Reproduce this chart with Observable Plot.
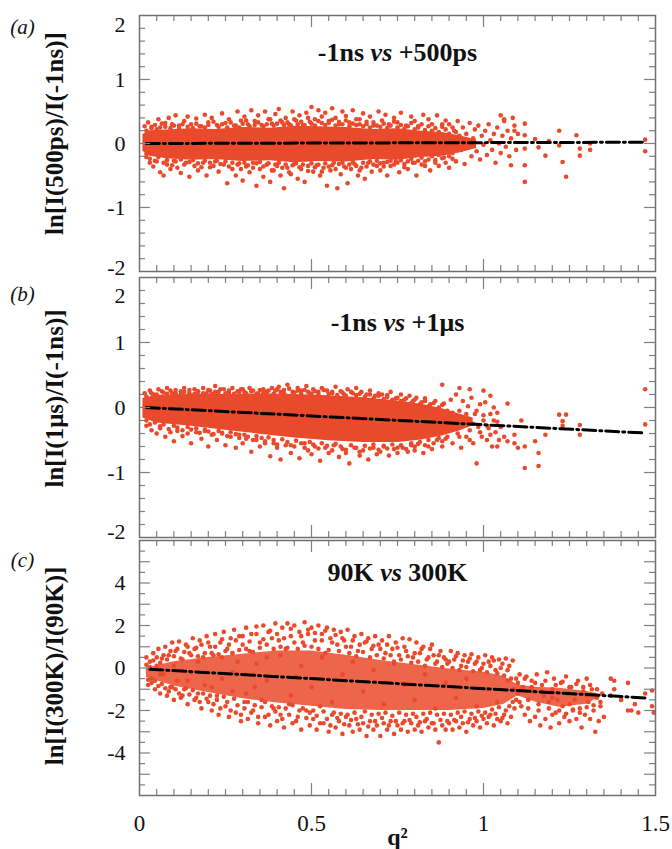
<!DOCTYPE html>
<html><head><meta charset="utf-8">
<script src="https://cdn.jsdelivr.net/npm/d3@7"></script>
<script src="https://cdn.jsdelivr.net/npm/@observablehq/plot@0.6"></script>
<style>
body{margin:0;background:#fff;}
#chart{position:relative;width:672px;height:849px;overflow:hidden;background:#fff;}
#chart svg{position:absolute;left:0;overflow:visible;}
</style></head><body><div id="chart"></div>
<script>
// ---------- data ----------
const xTickLabels = [0, 0.5, 1, 1.5];
const yTicksAB = [-2, -1, 0, 1, 2];
const yTicksC = [-4, -2, 0, 2, 4];
const titles = ["-1ns vs +500ps", "-1ns vs +1μs", "90K vs 300K"];
const yLabels = ["ln[I(500ps)/I(-1ns)]", "ln[I(1μs)/I(-1ns)]", "ln[I(300K)/I(90K)]"];
const tags = ["(a)", "(b)", "(c)"];

// dense core of each cloud: [q², lower, upper]
const coreA = [[0.01,-0.12,0.14],[0.03,-0.2,0.2],[0.08,-0.24,0.21],[0.15,-0.26,0.23],[0.22,-0.25,0.22],[0.3,-0.28,0.25],[0.38,-0.27,0.24],[0.45,-0.3,0.27],[0.52,-0.28,0.26],[0.6,-0.29,0.25],[0.68,-0.25,0.22],[0.75,-0.26,0.23],[0.82,-0.22,0.19],[0.88,-0.2,0.17],[0.93,-0.15,0.12],[0.98,-0.08,0.06]];
const coreB = [[0.01,-0.16,0.14],[0.05,-0.24,0.19],[0.15,-0.29,0.2],[0.25,-0.35,0.2],[0.35,-0.41,0.21],[0.45,-0.47,0.2],[0.55,-0.51,0.18],[0.65,-0.54,0.15],[0.75,-0.54,0.1],[0.82,-0.5,0.05],[0.88,-0.44,-0.02],[0.93,-0.36,-0.1],[0.97,-0.28,-0.16]];
const coreC = [[0.02,-0.45,0.0],[0.1,-0.85,0.3],[0.2,-1.15,0.5],[0.3,-1.45,0.65],[0.4,-1.65,0.8],[0.5,-1.8,0.8],[0.6,-1.95,0.6],[0.7,-2.0,0.35],[0.8,-2.0,0.15],[0.9,-2.0,-0.05],[1.0,-1.9,-0.2],[1.06,-1.7,-0.4],[1.1,-1.3,-0.8],[1.15,-1.6,-0.9],[1.22,-1.85,-0.95],[1.3,-1.7,-1.1],[1.33,-1.45,-1.2]];

// individual points: [q², ln ratio]
const dotsA = [[0.015,0.27],[0.02,-0.21],[0.025,0.33],[0.03,-0.3],[0.035,0.24],[0.04,-0.36],[0.045,0.29],[0.05,-0.28],[0.055,0.38],[0.06,-0.45],[0.065,0.31],[0.07,-0.5],[0.075,0.26],[0.08,-0.33],[0.085,0.4],[0.09,-0.4],[0.095,0.3],[0.1,-0.27],
[0.105,0.44],[0.11,-0.38],[0.115,0.28],[0.12,-0.46],[0.13,0.35],[0.135,-0.3],[0.14,0.42],[0.145,-0.52],[0.15,0.3],[0.16,-0.35],[0.165,0.39],[0.17,-0.42],[0.18,0.27],[0.185,-0.3],[0.19,0.45],[0.195,-0.5],
[0.2,0.33],[0.205,-0.37],[0.21,0.4],[0.22,-0.28],[0.225,0.29],[0.23,-0.44],[0.24,0.47],[0.245,-0.33],[0.25,0.32],[0.255,-0.62],[0.26,0.38],[0.27,-0.4],[0.275,0.28],[0.28,-0.5],[0.285,0.5],[0.29,-0.31],[0.295,0.36],
[0.3,-0.58],[0.305,0.42],[0.31,-0.36],[0.315,0.3],[0.32,-0.45],[0.325,0.52],[0.33,-0.3],[0.335,0.35],[0.34,-0.66],[0.345,0.44],[0.35,-0.4],[0.355,0.29],[0.36,-0.52],[0.365,0.5],[0.37,-0.33],[0.375,0.38],[0.38,-0.6],[0.385,0.31],[0.39,-0.42],[0.395,0.46],
[0.4,-0.35],[0.405,0.54],[0.41,-0.5],[0.415,0.33],[0.42,-0.7],[0.425,0.4],[0.43,-0.38],[0.435,0.3],[0.44,-0.48],[0.445,0.5],[0.45,-0.32],[0.455,0.36],[0.46,-0.55],[0.465,0.44],[0.47,-0.4],[0.475,0.29],[0.48,-0.6],[0.485,0.48],[0.49,-0.35],[0.495,0.34],
[0.5,0.57],[0.505,-0.44],[0.51,0.38],[0.515,-0.34],[0.52,0.52],[0.525,-0.5],[0.53,0.32],[0.535,-0.38],[0.54,0.48],[0.545,-0.66],[0.55,0.35],[0.555,-0.42],[0.56,0.55],[0.565,-0.3],[0.57,0.4],[0.575,-0.7],[0.58,0.3],[0.585,-0.48],[0.59,0.5],[0.595,-0.36],
[0.6,0.43],[0.605,-0.62],[0.61,0.33],[0.615,-0.4],[0.62,0.52],[0.625,-0.32],[0.63,0.38],[0.635,-0.5],[0.64,0.3],[0.645,-0.38],[0.65,0.47],[0.655,-0.55],[0.66,0.34],[0.665,-0.3],[0.67,0.42],[0.675,-0.44],[0.68,0.28],[0.69,-0.35],[0.695,0.5],
[0.7,-0.42],[0.705,0.36],[0.71,-0.3],[0.715,0.45],[0.72,-0.5],[0.725,0.3],[0.73,-0.35],[0.74,0.4],[0.745,-0.28],[0.75,0.33],[0.755,-0.45],[0.76,0.48],[0.77,-0.32],[0.775,0.28],[0.78,-0.4],[0.79,0.42],[0.795,-0.3],
[0.8,0.35],[0.805,-0.5],[0.81,0.27],[0.82,-0.33],[0.825,0.45],[0.83,-0.28],[0.84,0.38],[0.845,-0.42],[0.85,0.3],[0.86,-0.3],[0.865,0.44],[0.87,-0.35],[0.88,0.26],[0.885,-0.22],[0.89,0.36],[0.9,-0.38],
[0.9,0.3],[0.905,0.1],[0.91,-0.15],[0.915,0.2],[0.92,-0.28],[0.925,0.35],[0.93,0.05],[0.935,-0.1],[0.94,0.25],[0.945,-0.32],[0.95,0.15],[0.955,-0.05],[0.96,0.32],[0.965,-0.2],[0.97,0.08],[0.975,0.22],[0.98,-0.12],[0.985,0.28],[0.99,-0.25],[0.995,0.12],
[1.0,-0.02],[1.005,0.2],[1.01,-0.18],[1.015,0.3],[1.02,0.05],[1.025,-0.1],[1.03,0.15],[1.035,-0.3],[1.04,0.25],[1.045,0.0],[1.05,-0.15],[1.055,0.12],[1.06,0.35],[1.065,-0.05],[1.07,0.2],[1.075,-0.2],[1.08,0.08],[1.085,0.4],[1.09,0.28],[1.095,-0.1],[1.1,0.15],
[1.05,0.44],[1.06,0.38],[1.08,-0.34],[1.09,0.2],[1.12,0.31],[1.12,0.13],[1.12,-0.08],[1.12,-0.34],[1.12,-0.6],[1.15,0.07],[1.16,-0.06],[1.18,-0.19],[1.19,0.04],[1.22,0.2],[1.22,-0.03],[1.23,-0.29],[1.24,-0.52],[1.27,0.13],[1.28,-0.08],[1.28,-0.19],[1.31,0.0],[1.31,-0.1],[1.47,0.06],[1.47,-0.12]];
const edgeA = [[0.02,0.2],[0.035,0.26],[0.05,0.22],[0.06,0.25],[0.075,0.32],[0.09,0.24],[0.1,0.28],[0.115,0.23],[0.125,0.3],[0.14,0.26],[0.155,0.24],[0.165,0.31],[0.175,0.27],[0.19,0.25],[0.2,0.29],[0.215,0.34],[0.23,0.26],[0.24,0.3],[0.255,0.25],[0.265,0.33],[0.28,0.28],[0.29,0.25],[0.3,0.31],[0.31,0.36],[0.32,0.27],[0.335,0.29],[0.345,0.33],[0.36,0.27],[0.37,0.3],[0.38,0.38],[0.39,0.28],[0.4,0.31],[0.41,0.36],[0.42,0.29],[0.43,0.33],[0.44,0.28],[0.45,0.38],[0.46,0.3],[0.47,0.34],[0.48,0.29],[0.49,0.4],[0.5,0.31],[0.51,0.28],[0.52,0.35],[0.53,0.42],[0.54,0.29],[0.55,0.32],[0.56,0.37],[0.57,0.28],[0.58,0.34],[0.59,0.3],[0.6,0.36],[0.61,0.27],[0.62,0.31],[0.63,0.29],[0.64,0.38],[0.65,0.27],[0.66,0.3],[0.67,0.25],[0.68,0.33],[0.69,0.28],[0.7,0.26],[0.71,0.31],[0.72,0.24],[0.73,0.28],[0.74,0.34],[0.75,0.25],[0.76,0.29],[0.77,0.23],[0.78,0.27],[0.79,0.32],[0.8,0.22],[0.81,0.25],[0.82,0.3],[0.83,0.21],[0.84,0.27],[0.85,0.2],[0.86,0.24],[0.87,0.18],[0.88,0.3],[0.89,0.22],[0.9,0.15],[0.91,0.25],[0.92,0.18],[0.93,0.12],
[0.02,-0.16],[0.03,-0.24],[0.045,-0.27],[0.055,-0.21],[0.07,-0.3],[0.08,-0.26],[0.095,-0.34],[0.105,-0.28],[0.12,-0.25],[0.13,-0.33],[0.145,-0.29],[0.155,-0.26],[0.17,-0.31],[0.18,-0.37],[0.19,-0.27],[0.205,-0.3],[0.215,-0.35],[0.225,-0.27],[0.235,-0.32],[0.25,-0.28],[0.26,-0.36],[0.27,-0.3],[0.285,-0.33],[0.295,-0.4],[0.305,-0.3],[0.315,-0.34],[0.33,-0.38],[0.34,-0.31],[0.35,-0.29],[0.36,-0.36],[0.375,-0.31],[0.385,-0.42],[0.395,-0.33],[0.405,-0.3],[0.415,-0.38],[0.425,-0.33],[0.435,-0.45],[0.445,-0.34],[0.455,-0.31],[0.465,-0.37],[0.475,-0.33],[0.49,-0.43],[0.5,-0.31],[0.51,-0.37],[0.52,-0.33],[0.53,-0.44],[0.54,-0.31],[0.55,-0.36],[0.56,-0.34],[0.57,-0.4],[0.58,-0.32],[0.59,-0.3],[0.6,-0.38],[0.61,-0.33],[0.62,-0.29],[0.63,-0.35],[0.64,-0.42],[0.65,-0.3],[0.66,-0.36],[0.67,-0.28],[0.68,-0.33],[0.69,-0.27],[0.7,-0.31],[0.71,-0.36],[0.72,-0.29],[0.73,-0.27],[0.74,-0.33],[0.75,-0.3],[0.76,-0.26],[0.77,-0.37],[0.78,-0.28],[0.79,-0.24],[0.8,-0.3],[0.81,-0.27],[0.82,-0.22],[0.83,-0.35],[0.84,-0.25],[0.85,-0.2],[0.86,-0.26],[0.87,-0.18],[0.88,-0.23],[0.89,-0.3],[0.9,-0.2],[0.91,-0.24],[0.92,-0.1]];

const dotsB = [[0.015,0.22],[0.02,-0.28],[0.03,0.26],[0.035,-0.35],[0.04,0.2],[0.05,-0.4],[0.055,0.28],[0.06,-0.32],[0.07,0.23],[0.075,-0.45],[0.08,0.3],[0.09,-0.38],[0.095,0.22],
[0.1,-0.52],[0.105,0.27],[0.11,-0.36],[0.12,0.25],[0.125,-0.44],[0.13,0.3],[0.14,-0.4],[0.145,0.22],[0.15,-0.55],[0.16,0.28],[0.165,-0.38],[0.17,0.24],[0.18,-0.48],[0.185,0.3],[0.19,-0.36],[0.195,0.22],
[0.2,-0.6],[0.205,0.26],[0.21,-0.42],[0.22,0.33],[0.225,-0.5],[0.23,0.24],[0.24,-0.4],[0.245,0.28],[0.25,-0.58],[0.26,0.23],[0.265,-0.45],[0.27,0.3],[0.28,-0.62],[0.285,0.25],[0.29,-0.42],[0.295,0.28],
[0.3,-0.55],[0.305,0.24],[0.31,-0.48],[0.32,0.3],[0.325,-0.68],[0.33,0.26],[0.34,-0.5],[0.345,0.22],[0.35,-0.6],[0.36,0.28],[0.365,-0.52],[0.37,0.24],[0.38,-0.75],[0.385,0.3],[0.39,-0.55],[0.395,0.26],
[0.4,-0.62],[0.405,0.32],[0.41,-0.8],[0.42,0.27],[0.425,-0.58],[0.43,0.35],[0.44,-0.7],[0.445,0.24],[0.45,-0.6],[0.46,0.3],[0.465,-0.78],[0.47,0.26],[0.48,-0.55],[0.485,0.33],[0.49,-0.66],[0.495,0.22],
[0.5,-0.72],[0.505,0.28],[0.51,-0.6],[0.52,0.24],[0.525,-0.82],[0.53,0.3],[0.54,-0.62],[0.545,0.26],[0.55,-0.7],[0.56,0.22],[0.565,-0.58],[0.57,0.32],[0.58,-0.76],[0.585,0.25],[0.59,-0.64],[0.595,0.2],
[0.6,-0.7],[0.605,0.28],[0.61,-0.86],[0.62,0.22],[0.625,-0.62],[0.63,0.3],[0.64,-0.74],[0.645,0.24],[0.65,-0.66],[0.66,0.2],[0.665,-0.8],[0.67,0.26],[0.68,-0.62],[0.685,0.18],[0.69,-0.72],[0.695,0.22],
[0.7,-0.68],[0.705,0.2],[0.71,-0.6],[0.72,0.16],[0.725,-0.74],[0.73,0.24],[0.74,-0.64],[0.745,0.14],[0.75,-0.7],[0.76,0.2],[0.765,-0.62],[0.77,0.12],[0.78,-0.68],[0.785,0.18],[0.79,-0.58],[0.795,0.1],
[0.8,-0.66],[0.805,0.15],[0.81,-0.56],[0.82,0.08],[0.825,-0.7],[0.83,0.14],[0.84,-0.6],[0.845,0.05],[0.85,-0.64],[0.86,0.1],[0.865,-0.5],[0.87,-0.02],[0.88,-0.6],[0.885,0.06],[0.89,-0.48],[0.895,-0.1],
[0.9,-0.3],[0.905,0.12],[0.91,-0.55],[0.915,-0.15],[0.92,0.2],[0.925,-0.4],[0.93,-0.05],[0.935,-0.62],[0.94,0.1],[0.945,-0.25],[0.95,-0.45],[0.955,0.02],[0.96,-0.35],[0.965,0.15],[0.97,-0.55],[0.975,-0.1],[0.98,-0.86],[0.985,-0.3],[0.99,0.05],[0.995,-0.45],
[1.0,-0.2],[1.005,0.08],[1.01,-0.5],[1.015,-0.32],[1.02,-0.1],[1.025,-0.6],[1.03,0.0],[1.035,-0.38],[1.04,-0.22],[1.045,-0.5],[0.88,0.35],[0.93,0.3],[0.96,0.28],[1.0,0.26],[1.02,0.18],
[1.07,0.06],[1.07,-0.52],[1.09,-0.42],[1.09,-0.55],[1.1,-0.62],[1.11,-0.2],[1.12,-0.93],[1.12,-0.6],[1.15,-0.52],[1.16,-0.7],[1.16,-0.9],[1.18,-0.42],[1.22,-0.11],[1.24,-0.11],[1.23,-0.21],[1.23,-0.28],[1.28,-0.27],[1.28,-0.42],[1.47,0.28],[1.47,-0.26]];
const edgeB = [[0.02,0.17],[0.035,0.22],[0.05,0.2],[0.065,0.25],[0.08,0.21],[0.09,0.26],[0.105,0.22],[0.12,0.2],[0.13,0.24],[0.145,0.27],[0.16,0.21],[0.17,0.25],[0.185,0.22],[0.2,0.27],[0.21,0.21],[0.22,0.24],[0.235,0.28],[0.25,0.22],[0.26,0.26],[0.275,0.21],[0.29,0.24],[0.3,0.28],[0.31,0.22],[0.325,0.25],[0.34,0.21],[0.35,0.27],[0.36,0.23],[0.375,0.26],[0.39,0.21],[0.4,0.28],[0.41,0.24],[0.42,0.22],[0.435,0.29],[0.45,0.23],[0.46,0.26],[0.47,0.21],[0.48,0.27],[0.49,0.24],[0.5,0.21],[0.51,0.25],[0.52,0.2],[0.535,0.27],[0.55,0.21],[0.56,0.24],[0.575,0.19],[0.59,0.23],[0.6,0.18],[0.615,0.24],[0.63,0.19],[0.64,0.21],[0.655,0.16],[0.67,0.2],[0.68,0.14],[0.695,0.18],[0.71,0.13],[0.72,0.19],[0.735,0.12],[0.75,0.15],[0.76,0.1],[0.775,0.14],[0.79,0.07],[0.8,0.12],[0.815,0.05],[0.83,0.1],[0.84,0.02],[0.855,0.07],[0.87,0.0],[0.88,0.04],[0.895,-0.05],
[0.02,-0.2],[0.03,-0.26],[0.045,-0.23],[0.06,-0.29],[0.07,-0.26],[0.085,-0.33],[0.1,-0.28],[0.11,-0.31],[0.125,-0.35],[0.14,-0.3],[0.15,-0.34],[0.165,-0.32],[0.175,-0.39],[0.19,-0.34],[0.2,-0.37],[0.215,-0.41],[0.23,-0.36],[0.24,-0.39],[0.255,-0.44],[0.265,-0.38],[0.28,-0.41],[0.29,-0.47],[0.305,-0.42],[0.315,-0.45],[0.33,-0.5],[0.34,-0.44],[0.355,-0.47],[0.365,-0.55],[0.375,-0.46],[0.39,-0.5],[0.4,-0.57],[0.415,-0.49],[0.43,-0.53],[0.44,-0.58],[0.455,-0.51],[0.47,-0.55],[0.48,-0.62],[0.495,-0.53],[0.505,-0.57],[0.52,-0.63],[0.53,-0.55],[0.545,-0.59],[0.56,-0.66],[0.57,-0.56],[0.585,-0.6],[0.6,-0.65],[0.615,-0.58],[0.63,-0.62],[0.64,-0.68],[0.655,-0.59],[0.67,-0.63],[0.68,-0.57],[0.695,-0.65],[0.71,-0.59],[0.72,-0.63],[0.735,-0.57],[0.75,-0.62],[0.76,-0.58],[0.775,-0.64],[0.79,-0.55],[0.8,-0.6],[0.815,-0.53],[0.83,-0.58],[0.84,-0.5],[0.855,-0.55],[0.87,-0.47],[0.88,-0.52],[0.895,-0.45],
[0.9,-0.2],[0.91,-0.08],[0.92,-0.3],[0.93,-0.45],[0.94,-0.18],[0.95,-0.1],[0.96,-0.5],[0.97,-0.25],[0.98,-0.05],[0.99,-0.38],[1.0,-0.12],[1.01,-0.28],[1.02,-0.42],[1.03,-0.2],[1.04,-0.08],[1.05,-0.3],[1.06,-0.45],[1.04,-0.6]];

const dotsC = [[0.02,0.5],[0.025,-0.8],[0.03,0.3],[0.035,-0.5],[0.04,0.7],[0.045,-1.0],[0.05,0.1],[0.055,0.9],[0.06,-1.2],[0.065,0.45],[0.07,-0.3],[0.075,1.0],[0.08,-1.3],[0.085,0.6],[0.09,-0.9],[0.095,1.2],[0.1,-1.5],
[0.105,0.8],[0.11,-0.6],[0.115,1.25],[0.12,-1.4],[0.125,0.4],[0.13,-1.0],[0.135,1.1],[0.14,-1.7],[0.145,0.7],[0.15,-0.2],[0.155,1.4],[0.16,-1.5],[0.165,0.95],[0.17,-1.2],[0.175,1.3],[0.18,-1.9],[0.185,0.5],[0.19,-0.8],[0.195,1.5],[0.2,-1.6],
[0.205,1.0],[0.21,-2.0],[0.215,0.6],[0.22,1.6],[0.225,-1.3],[0.23,-2.2],[0.235,1.2],[0.24,-0.5],[0.245,1.7],[0.25,-1.8],[0.255,0.9],[0.26,-2.3],[0.265,1.4],[0.27,-1.1],[0.275,1.8],[0.28,-2.1],[0.285,0.3],[0.29,1.5],[0.295,-2.5],[0.3,1.1],
[0.305,-1.6],[0.31,1.9],[0.315,-2.4],[0.32,0.8],[0.325,1.6],[0.33,-2.0],[0.335,-0.9],[0.34,1.95],[0.345,-2.6],[0.35,1.2],[0.355,-1.5],[0.36,2.0],[0.365,-2.3],[0.37,0.5],[0.375,1.7],[0.38,-2.7],[0.385,1.4],[0.39,-1.9],[0.395,2.1],[0.4,-2.5],
[0.405,1.3],[0.41,-2.2],[0.415,1.9],[0.42,-2.8],[0.425,0.9],[0.43,2.1],[0.435,-1.7],[0.44,1.5],[0.445,-2.6],[0.45,2.0],[0.455,-0.4],[0.46,-2.3],[0.465,1.7],[0.47,-2.9],[0.475,1.2],[0.48,2.15],[0.485,-2.0],[0.49,1.6],[0.495,-2.7],[0.5,1.9],
[0.505,-2.4],[0.51,1.3],[0.515,-2.9],[0.52,2.0],[0.525,-1.8],[0.53,1.6],[0.535,-2.6],[0.54,0.7],[0.545,1.9],[0.55,-3.0],[0.555,1.4],[0.56,-2.2],[0.565,1.8],[0.57,-2.8],[0.575,1.1],[0.58,-2.5],[0.585,1.7],[0.59,-3.1],[0.595,1.3],[0.6,-2.3],
[0.605,1.8],[0.61,-2.7],[0.615,1.0],[0.62,-3.0],[0.625,1.5],[0.63,-2.4],[0.635,0.8],[0.64,-2.9],[0.645,1.6],[0.65,-2.6],[0.655,1.2],[0.66,-3.2],[0.665,1.4],[0.67,-2.5],[0.675,0.9],[0.68,-2.9],[0.685,1.5],[0.69,-2.7],[0.695,1.1],[0.7,-3.2],
[0.705,1.3],[0.71,-2.6],[0.715,0.7],[0.72,-2.9],[0.725,1.5],[0.73,-2.5],[0.735,0.9],[0.74,-3.1],[0.745,1.2],[0.75,-2.7],[0.755,0.6],[0.76,-2.9],[0.765,1.4],[0.77,-2.5],[0.775,0.8],[0.78,-3.0],[0.785,1.35],[0.79,-2.6],[0.795,0.5],[0.8,-2.9],
[0.805,1.2],[0.81,-2.7],[0.815,0.7],[0.82,-3.0],[0.825,1.0],[0.83,-2.5],[0.835,0.4],[0.84,-2.8],[0.845,0.9],[0.85,-2.6],[0.855,0.6],[0.86,-2.9],[0.865,0.3],[0.87,-3.5],[0.875,0.8],[0.88,-2.7],[0.885,0.5],[0.89,-2.9],[0.895,0.2],[0.9,-2.6],
[0.905,0.8],[0.91,-2.9],[0.915,0.4],[0.92,-2.5],[0.925,0.7],[0.93,-2.8],[0.935,0.1],[0.94,-2.6],[0.945,0.6],[0.95,-3.0],[0.955,0.3],[0.96,-2.4],[0.965,0.65],[0.97,-2.7],[0.975,0.2],[0.98,-2.5],[0.985,0.5],[0.99,-2.8],[0.995,0.0],[1.0,-2.4],
[1.005,0.6],[1.01,-2.6],[1.015,0.3],[1.02,-2.2],[1.025,0.5],[1.03,-2.7],[1.035,-0.1],[1.04,-2.4],[1.045,0.4],[1.05,-2.5],[1.055,0.2],[1.06,-2.2],[1.065,0.45],[1.07,-2.6],[1.075,0.1],[1.08,-2.3],[1.085,0.35],[1.09,-1.9],[1.095,-0.5],[1.1,-1.2],
[1.105,-0.3],[1.11,-1.8],[1.115,-0.9],[1.12,-2.2],[1.125,-0.4],[1.13,-1.5],[1.135,-2.5],[1.14,-0.6],[1.145,-1.1],[1.15,-2.3],[1.155,-0.3],[1.16,-1.7],[1.165,-2.7],[1.17,-0.8],[1.175,-1.3],[1.18,-2.4],[1.185,-0.2],[1.19,-1.9],[1.195,-2.8],[1.2,-1.0],
[1.205,-0.5],[1.21,-2.1],[1.215,-1.5],[1.22,-2.6],[1.225,-0.7],[1.23,-1.8],[1.235,-2.3],[1.24,-0.4],[1.245,-1.2],[1.25,-2.5],[1.255,-0.9],[1.26,-2.0],[1.265,-1.5],[1.27,-2.4],[1.275,-0.6],[1.28,-1.9],[1.285,-2.8],[1.29,-1.1],[1.295,-2.2],[1.3,-0.5],[1.305,-1.6],[1.31,-2.4],[1.315,-1.0],[1.32,-2.0],[1.325,-3.0],[1.33,-1.4],[1.335,-2.5],[1.34,-1.8],
[1.37,-0.5],[1.38,-0.6],[1.37,-1.3],[1.38,-1.0],[1.4,-1.5],[1.42,-0.7],[1.42,-2.0],[1.43,-2.0],[1.44,-1.7],[1.45,-2.1],[1.47,-1.2],[1.49,-1.06],[1.49,-1.8],[1.495,-2.1],
[0.06,-0.3],[0.1,0.1],[0.14,-0.6],[0.17,0.3],[0.21,-0.9],[0.24,0.5],[0.27,-0.2],[0.31,-1.2],[0.34,0.2],[0.37,-0.6],[0.41,0.6],[0.44,-1.3],[0.47,0.1],[0.5,-0.9],[0.53,0.5],[0.56,-1.6],[0.59,-0.3],[0.62,0.3],[0.65,-1.1],[0.68,-0.1],[0.71,-1.7],[0.74,0.2],[0.77,-0.8],[0.8,-1.5],[0.83,-0.3],[0.86,-1.9],[0.89,-0.7],[0.92,-1.4],[0.95,-0.5],[0.98,-1.8],[1.01,-1.0],[1.04,-1.6],[1.07,-0.6],[1.2,-1.4],[1.25,-1.7],[1.3,-1.3]];
const edgeC = [[0.02,0.15],[0.025,-0.55],[0.03,0.05],[0.035,-0.7],[0.04,0.35],[0.045,-0.6],[0.05,0.5],[0.055,-0.85],[0.06,0.25],[0.065,-0.75],[0.07,0.6],[0.075,-0.95],[0.08,0.4],[0.085,-1.1],[0.09,0.8],[0.095,-0.9],
[0.1,0.55],[0.105,-1.0],[0.11,0.9],[0.115,-1.2],[0.12,0.45],[0.125,-1.3],[0.13,0.75],[0.135,-0.95],[0.14,1.0],[0.145,-1.25],[0.15,0.6],[0.155,-1.05],[0.16,0.9],[0.165,-1.4],[0.17,0.55],[0.175,-1.6],[0.18,1.1],[0.185,-1.2],[0.19,0.7],[0.195,-1.45],
[0.2,1.2],[0.205,-1.3],[0.21,0.7],[0.215,-1.7],[0.22,1.0],[0.225,-1.5],[0.23,0.65],[0.235,-1.9],[0.24,1.35],[0.245,-1.35],[0.25,0.8],[0.255,-1.6],[0.26,1.1],[0.265,-2.0],[0.27,0.7],[0.275,-1.45],[0.28,1.3],[0.285,-1.75],[0.29,0.85],[0.295,-2.2],
[0.3,1.5],[0.305,-1.9],[0.31,0.9],[0.315,-1.6],[0.32,1.25],[0.325,-2.1],[0.33,0.75],[0.335,-1.75],[0.34,1.6],[0.345,-2.3],[0.35,0.95],[0.355,-1.85],[0.36,1.35],[0.365,-1.6],[0.37,1.1],[0.375,-2.2],[0.38,1.75],[0.385,-1.8],[0.39,0.9],[0.395,-2.05],
[0.4,1.6],[0.405,-1.85],[0.41,1.0],[0.415,-2.4],[0.42,1.4],[0.425,-1.9],[0.43,0.95],[0.435,-2.2],[0.44,1.85],[0.445,-1.75],[0.45,1.2],[0.455,-2.5],[0.46,0.9],[0.465,-2.0],[0.47,1.5],[0.475,-1.9],[0.48,1.05],[0.485,-2.35],[0.49,1.8],[0.495,-2.1],
[0.5,1.0],[0.505,-2.0],[0.51,1.65],[0.515,-2.25],[0.52,0.9],[0.525,-2.6],[0.53,1.3],[0.535,-2.05],[0.54,1.75],[0.545,-2.4],[0.55,0.85],[0.555,-2.7],[0.56,1.2],[0.565,-2.1],[0.57,1.55],[0.575,-2.35],[0.58,0.8],[0.585,-2.15],[0.59,1.4],[0.595,-2.65],
[0.6,1.0],[0.605,-2.2],[0.61,0.7],[0.615,-2.45],[0.62,1.3],[0.625,-2.1],[0.63,0.55],[0.635,-2.65],[0.64,1.1],[0.645,-2.3],[0.65,0.75],[0.655,-2.05],[0.66,1.25],[0.665,-2.75],[0.67,0.5],[0.675,-2.2],[0.68,1.05],[0.685,-2.5],[0.69,0.6],[0.695,-2.15],
[0.7,0.9],[0.705,-2.35],[0.71,0.45],[0.715,-2.1],[0.72,1.1],[0.725,-2.7],[0.73,0.6],[0.735,-2.25],[0.74,0.3],[0.745,-2.5],[0.75,0.95],[0.755,-2.1],[0.76,0.4],[0.765,-2.6],[0.77,1.0],[0.775,-2.2],[0.78,0.55],[0.785,-2.45],[0.79,0.25],[0.795,-2.15],
[0.8,0.7],[0.805,-2.3],[0.81,0.3],[0.815,-2.55],[0.82,0.9],[0.825,-2.15],[0.83,0.1],[0.835,-2.4],[0.84,0.5],[0.845,-2.1],[0.85,1.1],[0.855,-2.6],[0.86,0.2],[0.865,-2.2],[0.87,0.6],[0.875,-2.45],[0.88,0.05],[0.885,-2.15],[0.89,0.4],[0.895,-2.5],
[0.9,0.3],[0.905,-2.2],[0.91,0.0],[0.915,-2.45],[0.92,0.55],[0.925,-2.1],[0.93,-0.1],[0.935,-2.3],[0.94,0.35],[0.945,-2.05],[0.95,0.05],[0.955,-2.55],[0.96,0.45],[0.965,-2.15],[0.97,-0.15],[0.975,-2.35],[0.98,0.3],[0.985,-2.05],[0.99,-0.1],[0.995,-2.25],
[1.0,0.2],[1.005,-2.1],[1.01,-0.2],[1.015,-2.3],[1.02,0.1],[1.025,-1.95],[1.03,0.35],[1.035,-2.15],[1.04,-0.25],[1.045,-1.85],[1.05,0.0],[1.055,-2.35],[1.06,-0.35],[1.065,-2.0],[1.07,-0.1],[1.075,-1.8],[1.08,-0.5],[1.085,-1.6],[1.09,-1.0],[1.095,-1.5],
[1.1,-0.7],[1.105,-1.6],[1.12,-0.5],[1.13,-1.9],[1.14,-0.9],[1.15,-0.7],[1.16,-2.0],[1.17,-1.1],[1.18,-0.6],[1.19,-1.6],[1.2,-2.2],[1.21,-0.8],[1.22,-2.0],[1.23,-0.65],[1.24,-2.15],[1.25,-0.9],[1.26,-1.95],[1.27,-0.75],[1.28,-2.1],[1.29,-0.9],[1.3,-1.85],[1.31,-0.8],[1.32,-1.75],[1.33,-1.0],[1.34,-1.6],[1.345,-1.2],[1.35,-2.3]];

// dash-dot fit lines: [q², value]
const fitA = [[0.02,0.0],[1.47,0.02]];
const fitB = [[0.02,0.0],[1.46,-0.39]];
const fitC = [[0.03,-0.06],[1.47,-1.41]];

// ---------- drawing ----------
const RED = "#ea4a2c";
const SERIF = "'Liberation Serif','Times New Roman',serif";
const TICK = "#808080";
const W = 672, ML = 139, MR = 17;
const PW = W - ML - MR;
const xMinor = d3.range(1, 30).map(i => +(i * 0.05).toFixed(2)).filter(v => v !== 0.5 && v !== 1);
const xMajor = [0.5, 1];

function panel(o) {
  const ph = o.height - o.mt - o.mb;
  const yTop = o.yLab[o.yLab.length - 1];
  const yBot = o.yLab[0];
  const labelDy = v => (v === yTop ? o.topDy : v === yBot ? o.botDy : 0);
  const tickText = v => Plot.text([v], {y: d => d, text: d => String(d), frameAnchor: "left", textAnchor: "end", dx: -14, dy: labelDy(v), fontSize: 22, fontFamily: SERIF, fill: "#111"});
  const marks = [
    Plot.areaY(o.core, {x: d => d[0], y1: d => d[1], y2: d => d[2], fill: RED, fillOpacity: o.coreOpacity}),
    Plot.dot(o.edge, {x: d => d[0], y: d => d[1], r: 2.3, fill: RED}),
    Plot.dot(o.dots, {x: d => d[0], y: d => d[1], r: 2.3, fill: RED}),
    Plot.line(o.fit, {x: d => d[0], y: d => d[1], stroke: "black", strokeWidth: 3, strokeDasharray: "13,4,2,4"}),
    Plot.ruleX(xMinor, {stroke: TICK, strokeWidth: 1.2, insetTop: ph - 6}),
    Plot.ruleX(xMinor, {stroke: TICK, strokeWidth: 1.2, insetBottom: ph - 6}),
    Plot.ruleX(xMajor, {stroke: TICK, strokeWidth: 1.2, insetTop: ph - 12}),
    Plot.ruleX(xMajor, {stroke: TICK, strokeWidth: 1.2, insetBottom: ph - 12}),
    Plot.ruleY(o.yMinor, {stroke: TICK, strokeWidth: 1.2, insetRight: PW - 6}),
    Plot.ruleY(o.yMinor, {stroke: TICK, strokeWidth: 1.2, insetLeft: PW - 6}),
    Plot.ruleY(o.yMajor, {stroke: TICK, strokeWidth: 1.2, insetRight: PW - 11}),
    Plot.ruleY(o.yMajor, {stroke: TICK, strokeWidth: 1.2, insetLeft: PW - 11}),
    Plot.frame({stroke: "#707070", strokeWidth: 1.5}),
    ...o.yLab.map(tickText),
    Plot.text([o.title], {text: d => d, frameAnchor: "top", lineAnchor: "middle", dy: o.titleDy, fontSize: 26, fontWeight: "bold", fontFamily: SERIF, fill: "#111"}),
    Plot.text([o.ylabel], {text: d => d, frameAnchor: "left", dx: -85, dy: o.ylabelDy, rotate: -90, textAnchor: "middle", lineAnchor: "middle", fontSize: 25, fontWeight: "bold", fontFamily: SERIF, fill: "#111"}),
    Plot.text([o.tag], {text: d => d, frameAnchor: "top-left", dx: -117, dy: o.tagDy, textAnchor: "middle", lineAnchor: "middle", fontSize: 21, fontStyle: "italic", fontFamily: SERIF, fill: "#111"})
  ];
  if (o.xAxis) {
    marks.push(Plot.text(xTickLabels, {x: d => d, text: d => String(d), frameAnchor: "bottom", lineAnchor: "middle", dy: 28, fontSize: 23, fontFamily: SERIF, fill: "#111"}));
    marks.push(Plot.text(["q²"], {text: d => d, frameAnchor: "bottom", lineAnchor: "middle", dy: 42, fontSize: 24, fontWeight: "bold", fontFamily: SERIF, fill: "#111"}));
  }
  const svg = Plot.plot({
    width: W, height: o.height,
    marginLeft: ML, marginRight: MR, marginTop: o.mt, marginBottom: o.mb,
    x: {domain: [0, 1.5], axis: null},
    y: {domain: o.ydom, axis: null},
    style: {background: "transparent", overflow: "visible"},
    marks
  });
  svg.style.top = o.top + "px";
  d3.select(svg).selectAll("text").filter(function () { return this.textContent === o.title; }).each(function () {
    const parts = o.title.split(" vs ");
    const t = d3.select(this).text(null);
    t.append("tspan").text(parts[0] + " ");
    t.append("tspan").attr("font-style", "italic").text("vs");
    t.append("tspan").text(" " + parts[1]);
  });
  document.getElementById("chart").appendChild(svg);
}

const minorAB = d3.range(-9, 10).map(i => +(i * 0.2).toFixed(1)).filter(v => Math.abs(v - Math.round(v)) > 1e-9);
const majorAB = [-1, 0, 1];
const minorC = d3.range(-11, 12).map(i => i * 0.5).filter(v => !Number.isInteger(v));
const majorC = d3.range(-5, 6);

panel({top: 0, height: 272, mt: 15, mb: 1, ydom: [-2, 2], core: coreA, coreOpacity: 1, dots: dotsA, edge: edgeA, fit: fitA,
  yLab: yTicksAB, topDy: 9, botDy: -4, yMinor: minorAB, yMajor: majorAB, title: titles[0], titleDy: 37,
  ylabel: yLabels[0], ylabelDy: -10, tag: tags[0], tagDy: 12, xAxis: false});
panel({top: 272, height: 265, mt: 5, mb: 0, ydom: [-2, 2], core: coreB, coreOpacity: 1, dots: dotsB, edge: edgeB, fit: fitB,
  yLab: yTicksAB, topDy: 18, botDy: -6, yMinor: minorAB, yMajor: majorAB, title: titles[1], titleDy: 45,
  ylabel: yLabels[1], ylabelDy: -9, tag: tags[1], tagDy: 17, xAxis: false});
panel({top: 537, height: 312, mt: 3, mb: 54, ydom: [-6, 6], core: coreC, coreOpacity: 0.85, dots: dotsC, edge: edgeC, fit: fitC,
  yLab: yTicksC, topDy: 0, botDy: 0, yMinor: minorC, yMajor: majorC, title: titles[2], titleDy: 32,
  ylabel: yLabels[2], ylabelDy: -2, tag: tags[2], tagDy: 20, xAxis: true});
</script>
</body></html>
